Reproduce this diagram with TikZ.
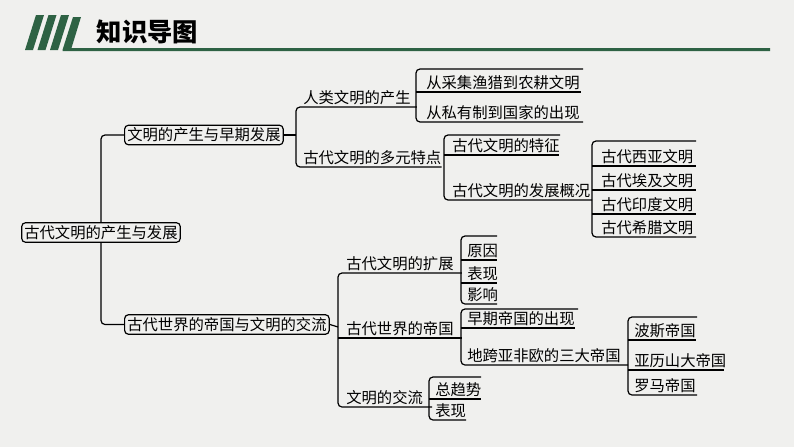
\documentclass[tikz,border=0pt]{standalone}
\usepackage{fontspec}
\setmainfont{Noto Sans CJK SC}
\definecolor{cgreen}{RGB}{46,98,68}
\definecolor{cpaper}{RGB}{240,240,238}

\begin{document}
\begin{tikzpicture}[x=0.75pt, y=-0.75pt,
    box/.style={draw, rounded corners=3pt, line width=0.9pt, inner sep=2pt,
                font=\fontsize{11.5}{13}\selectfont},
    txt/.style={anchor=south west, inner xsep=0pt, inner ysep=1.5pt,
                font=\fontsize{11.5}{13}\selectfont},
    br/.style={line width=0.9pt, rounded corners=3pt},
  ]
  \fill[cpaper] (0,0) rectangle (794,447);
  \useasboundingbox (0,0) rectangle (794,447);
  % header
  \foreach \i in {0,1,2}
    \fill[cgreen] (25+12.5*\i,50) -- (33+12.5*\i,50) -- (44+12.5*\i,15) -- (36+12.5*\i,15) -- cycle;
  \fill[cgreen] (62.5,50) -- (73,17) -- (81,17) -- (71.5,48) -- (770,48) -- (770,51) -- (62.5,51) -- cycle;
  \node[anchor=west, font=\fontsize{19}{22}\selectfont\bfseries] (title) at (92,32) {知识导图};

  % root and first level
  \node[box] (root) at (101,232.5) {古代文明的产生与发展};
  \node[box, anchor=west] (rise) at (124,135) {文明的产生与早期发展};
  \node[box, anchor=west] (empire) at (124,324.5) {古代世界的帝国与文明的交流};
  \draw[br] (root.north) |- (rise.west);
  \draw[br] (root.south) |- (empire.west);

  % second level
  \node[txt] (human) at (303,107) {人类文明的产生};
  \node[txt] (multi) at (303,167) {古代文明的多元特点};
  \draw[br] (human.south east) ++(6,0) -- (296,107) -- (296,167) -- (multi.south east);
  \draw[br] (rise.east) -- (296,135);

  \node[txt] (expand) at (346,273) {古代文明的扩展};
  \node[txt] (world) at (346,338) {古代世界的帝国};
  \node[txt] (contact) at (346,407) {文明的交流};
  \draw[br] (expand.south east) ++(8,0) -- (338,273) -- (338,407) -- (contact.south east) -- ++(9,0);
  \draw[br] (338,338) -- (world.south east) -- ++(8,0);
  \draw[br] (empire.east) -- (338,327);

  % third level: human
  \node[txt] (farm) at (426,92) {从采集渔猎到农耕文明};
  \node[txt] (state) at (426,122) {从私有制到国家的出现};
  \draw[br] (583,69) -- (416,69) -- (416,122) -- (583,122);
  \draw[br] (416,92) -- (581,92);

  % multi
  \node[txt] (feature) at (452,155) {古代文明的特征};
  \node[txt] (overview) at (452,200) {古代文明的发展概况};
  \draw[br] (560,135) -- (444,135) -- (444,200) -- (592,200);
  \draw[br] (444,155) -- (559,155);

  % overview
  \foreach \n/\t/\y in {wasia/古代西亚文明/166, egypt/古代埃及文明/190, india/古代印度文明/214, greece/古代希腊文明/237}
    \node[txt] (\n) at (601,\y) {\t};
  \draw[br] (696,141) -- (592,141) -- (592,237) -- (696,237);
  \foreach \y in {166,190,214} \draw[br] (592,\y) -- (696,\y);

  % expand
  \foreach \n/\t/\y in {cause/原因/260, show/表现/283, effect/影响/304}
    \node[txt] (\n) at (467,\y) {\t};
  \draw[br] (497,236) -- (461,236) -- (461,304) -- (497,304);
  \foreach \y in {260,283} \draw[br] (461,\y) -- (497,\y);

  % world
  \node[txt] (early) at (467,328) {早期帝国的出现};
  \node[txt] (three) at (467,365) {地跨亚非欧的三大帝国};
  \draw[br] (578,309) -- (461,309) -- (461,365) -- (628,365);
  \draw[br] (461,328) -- (575,328);
  \draw[br] (world.south east) ++(8,0) -- (461,338);

  % three empires
  \node[txt] (persia) at (634,340) {波斯帝国};
  \node[txt] (alex) at (634,370) {亚历山大帝国};
  \node[txt] (rome) at (634,395) {罗马帝国};
  \draw[br] (697,317) -- (628,317) -- (628,395) -- (697,395);
  \draw[br] (628,340) -- (696,340);
  \draw[br] (628,370) -- (724,370);

  % contact
  \node[txt] (trend) at (435,399) {总趋势};
  \node[txt] (show2) at (435,420) {表现};
  \draw[br] (481,377) -- (429,377) -- (429,420) -- (466,420);
  \draw[br] (429,399) -- (481,399);
\end{tikzpicture}
\end{document}
